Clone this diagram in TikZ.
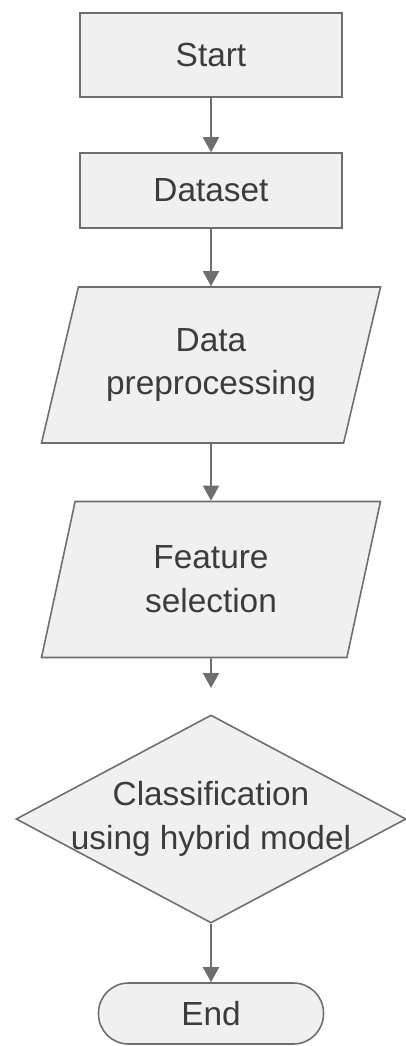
\documentclass[tikz,border=0pt]{standalone}
\usepackage{fontspec}
\setmainfont{Liberation Sans}
\usetikzlibrary{arrows.meta,shapes.geometric}

\definecolor{linegray}{RGB}{110,110,110}
\definecolor{boxgray}{RGB}{240,240,240}
\definecolor{txtgray}{RGB}{60,60,60}

\begin{document}
\begin{tikzpicture}[
boxtext/.style={text=txtgray, font=\fontsize{19}{25}\selectfont, align=center},
box/.style={boxtext, draw=linegray, fill=boxgray, line width=0.9pt, inner sep=0pt},
io/.style={box, trapezium, trapezium left angle=63.43, trapezium right angle=116.57,
  trapezium stretches body, minimum width=6.78cm, minimum height=3.12cm},
decision/.style={box, diamond, minimum width=7.8cm, minimum height=4.16cm},
term/.style={box, rounded corners=0.6cm, minimum width=4.5cm, minimum height=1.22cm},
flow/.style={draw=linegray, line width=1.1pt, -{Triangle[width=0.32cm,length=0.3cm]}}]

\def\cx{4.22}	% middle axis of the chart

\useasboundingbox (0,0) rectangle (8.12,-20.92);

% boxes
\node[box, minimum width=5.24cm, minimum height=1.68cm] (start) at (\cx,-1.10) {Start};
\node[box, minimum width=5.24cm, minimum height=1.5cm] (data) at (\cx,-3.81) {Dataset};
\node[io] (prep) at (\cx,-7.30) {Data\\preprocessing};
\node[io] (feat) at (\cx,-11.59) {Feature\\selection};
\node[decision, label={[boxtext]center:Classification\\using hybrid model}] (cls) at (\cx,-16.38) {};
\node[term] (end) at (\cx,-20.27) {End};

\coordinate (gap) at (\cx,-13.76);

% arrows
\draw[flow] (start) -- (data);
\draw[flow] (data) -- (prep);
\draw[flow] (prep) -- (feat);
\draw[flow] (feat) -- (gap);
\draw[flow] (cls.south) -- (end);

\end{tikzpicture}
\end{document}
